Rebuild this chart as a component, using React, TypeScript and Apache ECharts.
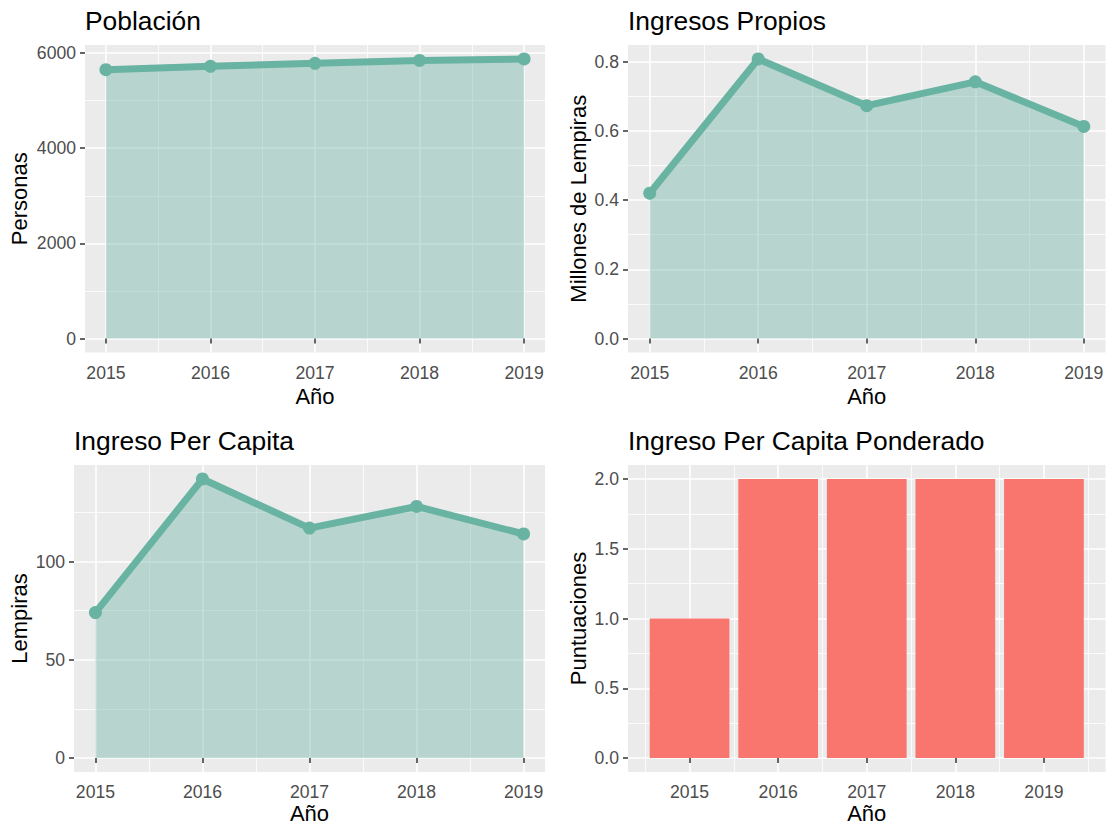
import React, { useEffect, useRef } from 'react';
import * as echarts from 'echarts';

// ---- data ----
const years = [2015, 2016, 2017, 2018, 2019];
const poblacion = [5650, 5720, 5785, 5845, 5875];
const ingresosPropios = [0.42, 0.808, 0.673, 0.742, 0.613];
const ingresoPerCapita = [74, 142, 117, 128, 114];
const ingresoPonderado = [1, 2, 2, 2, 2];

const poblacionTicks = [0, 2000, 4000, 6000];
const propiosTicks = [0, 0.2, 0.4, 0.6, 0.8];
const perCapitaTicks = [0, 50, 100];
const ponderadoTicks = [0, 0.5, 1, 1.5, 2];

const titles = ['Población', 'Ingresos Propios', 'Ingreso Per Capita', 'Ingreso Per Capita Ponderado'];
const yTitles = ['Personas', 'Millones de Lempiras', 'Lempiras', 'Puntuaciones'];
const xTitle = 'Año';

// ---- styles ----
const FONT = '"Liberation Sans", Arial, Helvetica, sans-serif';
const LINE_COLOR = '#69b3a2';
const BAR_COLOR = '#F8766D';
const PANEL_BG = '#EBEBEB';

const grids = [
  { left: 85, top: 45, width: 460, height: 307.5 },
  { left: 628, top: 45, width: 477.5, height: 307.5 },
  { left: 74, top: 465, width: 471, height: 307 },
  { left: 628, top: 465, width: 477.5, height: 307 },
];

function xAxisFor(gridIndex: number, min: number, max: number) {
  return {
    type: 'value',
    gridIndex,
    min,
    max,
    minInterval: 1,
    maxInterval: 1,
    splitNumber: 4,
    axisLine: { show: false },
    axisTick: { show: true, length: 5, customValues: years, lineStyle: { color: '#333333', width: 1.5 } },
    axisLabel: {
      customValues: years,
      margin: 11,
      color: '#4D4D4D',
      fontSize: 17.6,
      fontFamily: FONT,
      formatter: (v: number) => String(Math.round(v)),
    },
    splitLine: { show: true, lineStyle: { color: '#FFFFFF', width: 1.6 } },
    minorTick: { show: false, splitNumber: 2 },
    minorSplitLine: { show: true, lineStyle: { color: '#FFFFFF', width: 0.8 } },
  };
}

function yAxisFor(gridIndex: number, values: number[], ticks: number[], interval: number, decimals: number) {
  const top = Math.max(...values);
  return {
    type: 'value',
    gridIndex,
    min: -0.05 * top,
    max: 1.05 * top,
    minInterval: interval,
    maxInterval: interval,
    splitNumber: ticks.length,
    axisLine: { show: false },
    axisTick: { show: true, length: 5, customValues: ticks, lineStyle: { color: '#333333', width: 1.5 } },
    axisLabel: {
      customValues: ticks,
      margin: 9,
      color: '#4D4D4D',
      fontSize: 17.6,
      fontFamily: FONT,
      formatter: (v: number) => v.toFixed(decimals),
    },
    splitLine: { show: true, lineStyle: { color: '#FFFFFF', width: 1.6 } },
    minorTick: { show: false, splitNumber: 2 },
    minorSplitLine: { show: true, lineStyle: { color: '#FFFFFF', width: 0.8 } },
  };
}

function areaSeries(index: number, values: number[]) {
  return {
    type: 'line',
    xAxisIndex: index,
    yAxisIndex: index,
    data: years.map((y, i) => [y, values[i]]),
    symbol: 'circle',
    symbolSize: 13,
    showSymbol: true,
    lineStyle: { color: LINE_COLOR, width: 7, cap: 'butt', join: 'round' },
    itemStyle: { color: LINE_COLOR, borderWidth: 0 },
    areaStyle: { color: LINE_COLOR, opacity: 0.4, origin: 'auto' },
    silent: true,
  };
}

function textEl(text: string, x: number, y: number, size: number, align: string, rotation = 0) {
  return {
    type: 'text',
    x,
    y,
    rotation,
    silent: true,
    style: {
      text,
      fill: '#000000',
      fontSize: size,
      fontFamily: FONT,
      align,
      verticalAlign: 'middle',
      textAlign: align,
      textVerticalAlign: 'middle',
    },
  };
}

export default function App() {
  const ref = useRef<HTMLDivElement>(null);

  useEffect(() => {
    if (!ref.current) return;
    const chart = echarts.init(ref.current, undefined, { renderer: 'svg' });

    const barMin = years[0] - 0.45;
    const barMax = years[years.length - 1] + 0.45;
    const barPad = (barMax - barMin) * 0.05;

    const graphic: any[] = [];
    grids.forEach((g, i) => {
      graphic.push(textEl(titles[i], g.left, g.top - 24, 26.4, 'left'));
      const bottomRow = i >= 2;
      graphic.push(textEl(xTitle, g.left + g.width / 2, g.top + g.height + (bottomRow ? 41 : 44), 22, 'center'));
      const yx = i % 2 === 0 ? 19 : 578;
      graphic.push(textEl(yTitles[i], yx, g.top + g.height / 2, 22, 'center', Math.PI / 2));
    });

    const option: any = {
      animation: false,
      backgroundColor: '#FFFFFF',
      grid: grids.map((g) => ({
        ...g,
        show: true,
        backgroundColor: PANEL_BG,
        borderWidth: 0,
        containLabel: false,
      })),
      xAxis: [
        xAxisFor(0, 2014.8, 2019.2),
        xAxisFor(1, 2014.8, 2019.2),
        xAxisFor(2, 2014.8, 2019.2),
        xAxisFor(3, barMin - barPad, barMax + barPad),
      ],
      yAxis: [
        yAxisFor(0, poblacion, poblacionTicks, 2000, 0),
        yAxisFor(1, ingresosPropios, propiosTicks, 0.2, 1),
        yAxisFor(2, ingresoPerCapita, perCapitaTicks, 50, 0),
        yAxisFor(3, ingresoPonderado, ponderadoTicks, 0.5, 1),
      ],
      series: [
        areaSeries(0, poblacion),
        areaSeries(1, ingresosPropios),
        areaSeries(2, ingresoPerCapita),
        {
          type: 'bar',
          xAxisIndex: 3,
          yAxisIndex: 3,
          data: years.map((y, i) => [y, ingresoPonderado[i]]),
          barWidth: '90%',
          itemStyle: { color: BAR_COLOR },
          silent: true,
        },
      ],
      graphic,
    };

    chart.setOption(option);
    return () => chart.dispose();
  }, []);

  return (
    <div
      ref={ref}
      style={{ position: 'absolute', left: 0, top: 0, width: 1107, height: 826, background: '#FFFFFF' }}
    />
  );
}
